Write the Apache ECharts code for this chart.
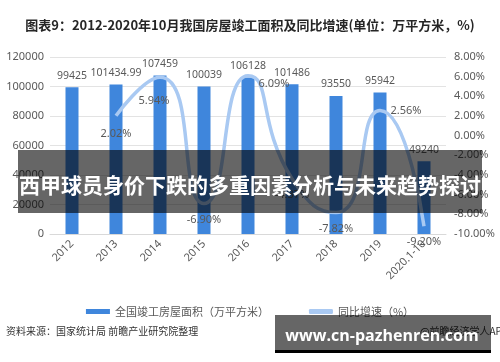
<!DOCTYPE html>
<html><head><meta charset="utf-8">
<script src="https://cdn.jsdelivr.net/npm/echarts@6/dist/echarts.min.js"></script>
<style>html,body{margin:0;padding:0;background:#fff}#c{width:500px;height:362px}</style>
</head><body><div id="c"></div>
<script>
var categories = ['2012','2013','2014','2015','2016','2017','2018','2019','2020.1-10'];
var areaValues = [99425, 101434.99, 107459, 100039, 106128, 101486, 93550, 95942, 49240];
var growthValues = ['-', 2.02, 5.94, -6.90, 6.09, -4.37, -7.82, 2.56, -9.20];
var growthLabelPos = [null, 'bottom', 'bottom', 'bottom', 'right', 'bottom', 'bottom', 'right', 'bottom'];
var leftTicks = [0, 20000, 40000, 60000, 80000, 100000, 120000];
var rightTicks = [-10, -8, -6, -4, -2, 0, 2, 4, 6, 8];

var txt = '#595959';
var chart = echarts.init(document.getElementById('c'), null, {renderer:'canvas'});
var lineData = growthValues.map(function(v, i){
  if (v === '-') return '-';
  var o = {value: v, label: {position: growthLabelPos[i]}};
  if (i === 2) o.label.offset = [-6, 8];
  if (i === 1) o.label.offset = [0, 2];
  if (i === 4) o.label.offset = [0, 8];
  return o;
});
chart.setOption({
  animation: false,
  title: {
    text: '图表9：2012-2020年10月我国房屋竣工面积及同比增速(单位：万平方米，%)',
    left: 'center', top: 14,
    textStyle: {fontSize: 13, fontWeight: 'bold', color: '#262626', fontFamily: 'Noto Sans CJK SC'}
  },
  grid: {left: 50, right: 54, top: 57, bottom: 128, containLabel: false},
  legend: {
    left: 'center', top: 301, itemGap: 40, itemWidth: 24, itemHeight: 5,
    textStyle: {color: txt, fontSize: 11, fontFamily: 'Noto Sans CJK SC'},
    data: [
      {name: '全国竣工房屋面积（万平方米）', icon: 'rect'},
      {name: '同比增速（%）', icon: 'roundRect', itemStyle: {color: '#a9c9f2'}}
    ]
  },
  xAxis: {
    type: 'category', data: categories,
    axisLine: {lineStyle: {color: '#d9d9d9'}}, axisTick: {show: false},
    axisLabel: {rotate: 45, color: txt, fontSize: 11, interval: 0, fontFamily: 'Noto Sans'}
  },
  yAxis: [
    {type: 'value', min: leftTicks[0], max: leftTicks[leftTicks.length-1], interval: 20000,
     axisLine: {show: false}, axisTick: {show: false},
     axisLabel: {color: txt, fontSize: 11, margin: 6, fontFamily: 'Noto Sans',
       formatter: function(v){ return String(v); }},
     splitLine: {lineStyle: {color: '#e3e3e3'}}},
    {type: 'value', min: rightTicks[0], max: rightTicks[rightTicks.length-1], interval: 2,
     axisLine: {show: false}, axisTick: {show: false},
     axisLabel: {color: txt, fontSize: 11, margin: 8, fontFamily: 'Noto Sans',
       formatter: function(v){ return v.toFixed(2) + '%'; }},
     splitLine: {show: false}}
  ],
  series: [
    {name: '全国竣工房屋面积（万平方米）', type: 'bar', data: areaValues, barWidth: 13,
     itemStyle: {color: '#3f86dc'},
     label: {show: true, position: 'top', color: txt, fontSize: 10.5, distance: 6, fontFamily: 'Noto Sans'}},
    {name: '同比增速（%）', type: 'line', yAxisIndex: 1, data: lineData, smooth: 0.6,
     symbol: 'circle', symbolSize: 1, itemStyle: {color: 'rgba(0,0,0,0)'},
     lineStyle: {color: '#a9c9f2', width: 3.5},
     label: {show: true, color: txt, fontSize: 11, distance: 10, fontFamily: 'Noto Sans',
       formatter: function(p){ return p.value.toFixed(2) + '%'; }},
     z: 3}
  ],
  graphic: [
    {type: 'text', left: 6, top: 326, style: {text: '资料来源：国家统计局 前瞻产业研究院整理', fill: '#333', fontSize: 10, fontFamily: 'Noto Sans CJK SC'}},
    {type: 'text', left: 420, top: 326, style: {text: '@前瞻经济学人APP', fill: '#333', fontSize: 10, fontFamily: 'Noto Sans CJK SC'}},
    {type: 'rect', shape: {x: 18, y: 150, width: 464, height: 63}, style: {fill: 'rgba(0,0,0,0.6)'}, z: 100},
    {type: 'text', x: 250, y: 185, style: {text: '西甲球员身价下跌的多重因素分析与未来趋势探讨', fill: '#fff', fontSize: 21, fontWeight: 'bold', align: 'center', verticalAlign: 'middle', fontFamily: 'Noto Sans CJK SC'}, z: 101},
    {type: 'rect', shape: {x: 275, y: 315, width: 216, height: 35}, style: {fill: 'rgba(0,0,0,0.6)'}, z: 100},
    {type: 'rect', shape: {x: 275, y: 350, width: 216, height: 3}, style: {fill: '#000'}, z: 100},
    {type: 'text', x: 382, y: 336, style: {text: 'www.cn-pazhenren.com', fill: '#fff', fontSize: 16, fontWeight: 'bold', align: 'center', verticalAlign: 'middle', fontFamily: 'Open Sans'}, z: 101}
  ]
});
</script></body></html>
